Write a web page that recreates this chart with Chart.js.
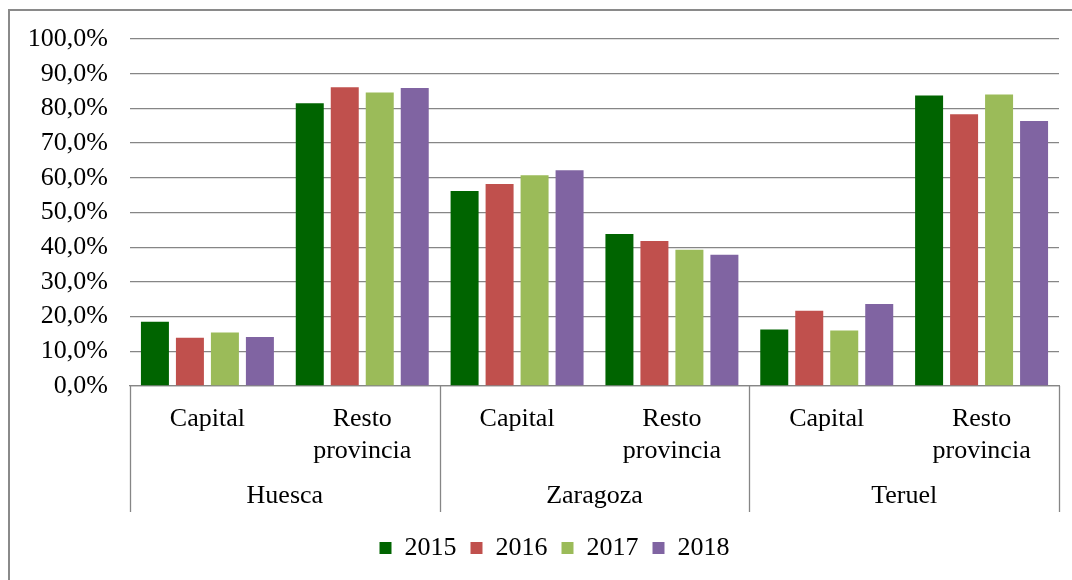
<!DOCTYPE html>
<html>
<head>
<meta charset="utf-8">
<script src="https://cdn.jsdelivr.net/npm/chart.js@4"></script>
<style>
  html, body { margin: 0; padding: 0; background: #fff; }
  canvas { display: block; }
</style>
</head>
<body>
<canvas id="c" width="1072" height="580"></canvas>
<script>
// ---- data ----
const provinces = ['Huesca', 'Zaragoza', 'Teruel'];
const subCategories = ['Capital', ['Resto', 'provincia']];
const years = ['2015', '2016', '2017', '2018'];
// order: Huesca Capital, Huesca Resto, Zaragoza Capital, Zaragoza Resto, Teruel Capital, Teruel Resto
const values2015 = [18.5, 81.5, 56.2, 43.8, 16.3, 83.7];
const values2016 = [13.9, 86.1, 58.2, 41.8, 21.7, 78.3];
const values2017 = [15.4, 84.6, 60.7, 39.3, 16.0, 84.0];
const values2018 = [14.1, 85.9, 62.2, 37.8, 23.6, 76.4];
const yTicks = [0, 10, 20, 30, 40, 50, 60, 70, 80, 90, 100];

const seriesValues = [values2015, values2016, values2017, values2018];
const colors = ['#006400', '#C0504D', '#9BBB59', '#8064A2'];
const labels = [];
provinces.forEach(() => subCategories.forEach(s => labels.push(s)));

const gridColor = '#868686';

Chart.defaults.font.family = '"Liberation Serif", "Times New Roman", serif';
Chart.defaults.font.size = 26;
Chart.defaults.color = '#000';

const frame = {
  id: 'frame',
  beforeDraw(chart) {
    const ctx = chart.ctx;
    ctx.save();
    ctx.fillStyle = '#fff';
    ctx.fillRect(0, 0, chart.width, chart.height);
    ctx.strokeStyle = '#8a8a8a';
    ctx.lineWidth = 2;
    ctx.strokeRect(9, 10, chart.width + 50, chart.height + 50);
    ctx.restore();
  }
};

// shift the legend's centring box so it sits where the original legend sits
const legendShift = {
  id: 'legendShift',
  afterLayout(chart) {
    if (chart.legend) chart.legend.left = 50;
  }
};

const separators = {
  id: 'separators',
  afterDraw(chart) {
    const x = chart.scales.x;
    const x2 = chart.scales.x2;
    const ctx = chart.ctx;
    const per = subCategories.length;
    const xs = [x.left];
    for (let g = 1; g < provinces.length; g++) {
      const a = x.getPixelForValue(g * per - 1);
      const b = x.getPixelForValue(g * per);
      xs.push((a + b) / 2);
    }
    xs.push(x.right);
    ctx.save();
    ctx.strokeStyle = gridColor;
    ctx.lineWidth = 1.3;
    const top = chart.chartArea.bottom;
    const bottom = x2.top + 46;
    xs.forEach(px => {
      const p = Math.round(px) + 0.5;
      ctx.beginPath();
      ctx.moveTo(p, top);
      ctx.lineTo(p, bottom);
      ctx.stroke();
    });
    ctx.restore();
  }
};

new Chart(document.getElementById('c'), {
  type: 'bar',
  data: {
    labels: labels,
    datasets: years.map((y, i) => ({
      label: y,
      data: seriesValues[i],
      backgroundColor: colors[i],
      borderWidth: 0,
      categoryPercentage: 0.904,
      barPercentage: 0.8
    }))
  },
  options: {
    responsive: false,
    devicePixelRatio: 1,
    animation: false,
    layout: { padding: { top: 39, left: 0, right: 13, bottom: 9 } },
    plugins: {
      legend: {
        position: 'bottom',
        labels: { boxWidth: 12, boxHeight: 12, padding: 14, font: { size: 26 } }
      },
      tooltip: { enabled: false }
    },
    scales: {
      y: {
        min: 0, max: 100,
        afterBuildTicks(scale) { scale.ticks = yTicks.map(v => ({ value: v })); },
        afterFit(scale) { scale.width = 130; },
        ticks: {
          padding: 22,
          callback: v => v.toFixed(1).replace('.', ',') + '%'
        },
        grid: { color: gridColor, lineWidth: 1.3, drawTicks: false },
        border: { display: false }
      },
      x: {
        position: 'bottom',
        afterFit(scale) { scale.height = 80; },
        ticks: { padding: 18, maxRotation: 0, autoSkip: false },
        grid: { display: false, drawTicks: false },
        border: { display: true, color: gridColor, width: 1.3 }
      },
      x2: {
        type: 'category',
        position: 'bottom',
        labels: provinces,
        offset: true,
        afterFit(scale) { scale.height = 55; },
        ticks: { padding: 15, maxRotation: 0 },
        grid: { display: false, drawTicks: false },
        border: { display: false }
      }
    }
  },
  plugins: [frame, legendShift, separators]
});
</script>
</body>
</html>
